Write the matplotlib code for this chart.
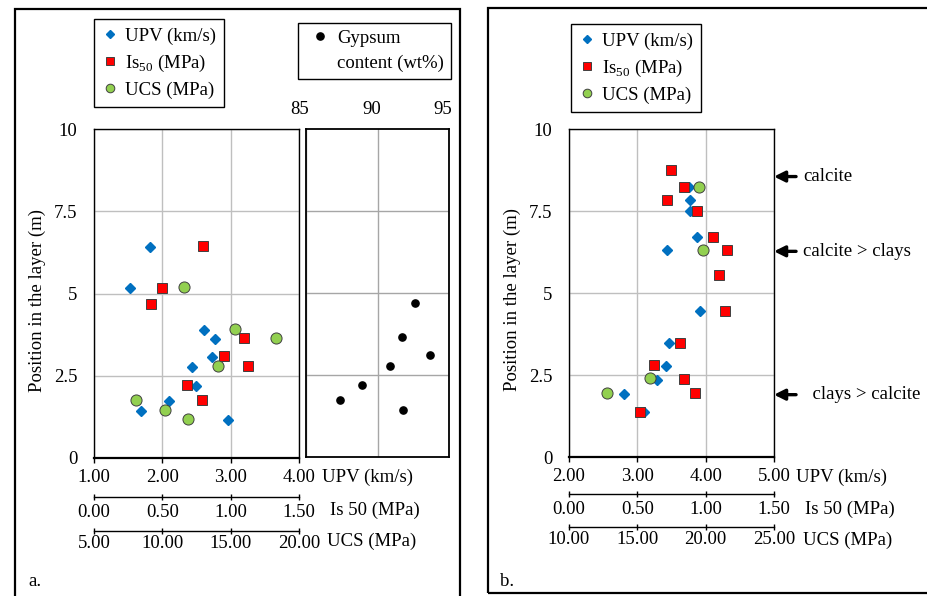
import numpy as np
import matplotlib
matplotlib.use('Agg')
import matplotlib.pyplot as plt
import matplotlib.transforms as mtransforms
from matplotlib.lines import Line2D
from matplotlib.patches import Rectangle

plt.rcParams['font.family'] = ['Liberation Serif', 'DejaVu Serif']
plt.rcParams['mathtext.fontset'] = 'custom'
plt.rcParams['mathtext.rm'] = 'Liberation Serif'
plt.rcParams['font.size'] = 13.5

#%% data
# panel a
a_upv_pos = [6.42, 5.17, 3.90, 3.63, 3.08, 2.77, 2.20, 1.72, 1.43, 1.15]
a_upv = [1.82, 1.52, 2.61, 2.77, 2.72, 2.44, 2.49, 2.10, 1.69, 2.96]
a_is_pos = [6.43, 5.18, 4.68, 3.66, 3.10, 2.79, 2.22, 1.77]
a_is50 = [0.80, 0.50, 0.42, 1.10, 0.95, 1.13, 0.68, 0.79]
a_ucs_pos = [5.20, 3.92, 3.66, 2.79, 1.77, 1.46, 1.20]
a_ucs = [11.6, 15.3, 18.3, 14.1, 8.1, 10.2, 11.9]
gyp_pos = [4.70, 3.65, 3.10, 2.77, 2.20, 1.75, 1.43]
gyp = [92.6, 91.7, 93.7, 90.9, 88.9, 87.4, 91.8]

# panel b
b_upv_pos = [8.24, 7.84, 7.50, 6.70, 6.30, 4.45, 3.48, 2.78, 2.35, 1.92, 1.36]
b_upv = [3.75, 3.77, 3.77, 3.87, 3.44, 3.92, 3.47, 3.42, 3.29, 2.81, 3.10]
b_is_pos = [8.74, 8.24, 7.84, 7.50, 6.70, 6.30, 5.56, 4.45, 3.48, 2.81, 2.38, 1.94, 1.36]
b_is50 = [0.745, 0.838, 0.716, 0.933, 1.057, 1.157, 1.094, 1.140, 0.809, 0.621, 0.840, 0.921, 0.519]
b_ucs_pos = [8.24, 6.30, 2.40, 1.96]
b_ucs = [19.5, 19.8, 15.9, 12.75]

y_ticks = [0, 2.5, 5, 7.5, 10]
y_ticklabels = ['0', '2.5', '5', '7.5', '10']
mineral_pos = [8.55, 6.27, 1.90]
mineral_txt = ['calcite', 'calcite > clays', '  clays > calcite']

BLUE = '#0070C0'
RED = '#FF0000'
GREEN = '#92D050'
GRID = '#BFBFBF'

W, H = 928, 596


def rect(x0, y0, x1, y1):
    # pixel box -> figure fraction
    return [x0 / W, 1 - y1 / H, (x1 - x0) / W, (y1 - y0) / H]


def fx(x):
    return x / W


def fy(y):
    return 1 - y / H


fig = plt.figure(figsize=(W / 100, H / 100), dpi=100)

# outer frames
fig.patches.append(Rectangle((fx(15), fy(610)), fx(460) - fx(15), fy(9) - fy(610),
                             transform=fig.transFigure, fill=False, lw=1.6, ec='black'))
fig.patches.append(Rectangle((fx(488), fy(593)), fx(940) - fx(488), fy(8) - fy(593),
                             transform=fig.transFigure, fill=False, lw=1.6, ec='black'))


def make_panel(box, upv_lim, is_lim, ucs_lim, off_is, off_ucs):
    ax = fig.add_axes(rect(*box))
    ax.set_xlim(*upv_lim)
    ax.set_ylim(0, 10)
    ax.set_xticks(np.arange(upv_lim[0], upv_lim[1] + 0.5, 1.0))
    ax.xaxis.set_major_formatter(matplotlib.ticker.FormatStrFormatter('%.2f'))
    ax.set_yticks(y_ticks)
    ax.set_yticklabels(y_ticklabels)
    ax.tick_params(axis='x', direction='out', length=3.6, width=1, pad=4.5)
    ax.tick_params(axis='y', length=0, pad=12)
    ax.grid(True, color=GRID, lw=1)
    ax.set_axisbelow(True)
    for s in ax.spines.values():
        s.set_linewidth(1.0)
    ax.spines['bottom'].set_linewidth(1.6)
    ax.set_ylabel('Position in the layer (m)')
    ax.yaxis.set_label_coords(-0.232, 0.48)

    twins = []
    for lim, off, step, pad in [(is_lim, off_is, 0.5, 2.5), (ucs_lim, off_ucs, 5.0, 0.5)]:
        t = ax.twiny()
        t.set_xlim(*lim)
        t.set_ylim(0, 10)
        t.set_xticks(np.arange(lim[0], lim[1] + step / 2, step))
        t.xaxis.set_major_formatter(matplotlib.ticker.FormatStrFormatter('%.2f'))
        t.xaxis.set_ticks_position('bottom')
        t.xaxis.set_label_position('bottom')
        for k in ['top', 'left', 'right']:
            t.spines[k].set_visible(False)
        t.spines['bottom'].set_position(('axes', off))
        t.spines['bottom'].set_linewidth(1.0)
        t.tick_params(axis='x', direction='inout', length=5, width=1, pad=pad)
        twins.append(t)
    return ax, twins[0], twins[1]


#%% panel a
ax_a, ax_a_is, ax_a_ucs = make_panel((94, 129, 299, 458), (1, 4), (0, 1.5), (5, 20),
                                     -0.1185, -0.222)
ax_a.plot(a_upv, a_upv_pos, 'D', color=BLUE, ms=4.8, mec=BLUE, ls='none', zorder=3)
ax_a_is.plot(a_is50, a_is_pos, 's', color=RED, ms=7.2, mec='#404040', mew=0.7, ls='none', zorder=3)
ax_a_ucs.plot(a_ucs, a_ucs_pos, 'o', color=GREEN, ms=8.0, mec='#404040', mew=0.7, ls='none', zorder=3)

ax_g = fig.add_axes(rect(306, 129, 449, 457))
ax_g.set_xlim(85, 95)
ax_g.set_ylim(0, 10)
ax_g.set_xticks([85, 90, 95])
ax_g.set_yticks([2.5, 5, 7.5])
ax_g.set_yticklabels([])
ax_g.xaxis.tick_top()
ax_g.tick_params(axis='both', length=0)
ax_g.tick_params(axis='x', pad=8)
shift = mtransforms.ScaledTranslation(-6 / 100, 0, fig.dpi_scale_trans)
for lab in ax_g.get_xticklabels():
    lab.set_transform(lab.get_transform() + shift)
ax_g.grid(True, color='#A6A6A6', lw=1)
ax_g.set_axisbelow(True)
for s in ax_g.spines.values():
    s.set_linewidth(1.3)
ax_g.plot(gyp, gyp_pos, 'o', color='black', ms=5.2, ls='none')

fig.text(fx(322), fy(477), 'UPV (km/s)', va='center', ha='left')
fig.text(fx(330), fy(510), 'Is 50 (MPa)', va='center', ha='left')
fig.text(fx(327), fy(541), 'UCS (MPa)', va='center', ha='left')
fig.text(fx(28), fy(582), 'a.', va='center', ha='left')

#%% panel b
ax_b, ax_b_is, ax_b_ucs = make_panel((569, 129, 774, 457), (2, 5), (0, 1.5), (10, 25),
                                     -0.113, -0.213)
ax_b.plot(b_upv, b_upv_pos, 'D', color=BLUE, ms=4.8, mec=BLUE, ls='none', zorder=3)
ax_b_is.plot(b_is50, b_is_pos, 's', color=RED, ms=7.2, mec='#404040', mew=0.7, ls='none', zorder=3)
ax_b_ucs.plot(b_ucs, b_ucs_pos, 'o', color=GREEN, ms=8.0, mec='#404040', mew=0.7, ls='none', zorder=3)

for p, t in zip(mineral_pos, mineral_txt):
    ax_b_ucs.annotate(t, xy=(1.0, p), xycoords=('axes fraction', 'data'),
                      xytext=(29, 0), textcoords='offset pixels', ha='left', va='center',
                      arrowprops=dict(arrowstyle='-|>', color='black', lw=2.4,
                                      mutation_scale=16, shrinkA=3, shrinkB=0),
                      annotation_clip=False)

fig.text(fx(796), fy(477), 'UPV (km/s)', va='center', ha='left')
fig.text(fx(805), fy(509), 'Is 50 (MPa)', va='center', ha='left')
fig.text(fx(803), fy(540), 'UCS (MPa)', va='center', ha='left')
fig.text(fx(500), fy(582), 'b.', va='center', ha='left')

#%% legends
handles = [Line2D([], [], marker='D', color=BLUE, ls='none', ms=4.4),
           Line2D([], [], marker='s', color=RED, mec='#404040', mew=0.7, ls='none', ms=6.2),
           Line2D([], [], marker='o', color=GREEN, mec='#404040', mew=0.7, ls='none', ms=6.2)]
labels = ['UPV (km/s)', r'Is$_{\mathregular{50}}$ (MPa)', 'UCS (MPa)']
leg_kw = dict(loc='upper left', borderaxespad=0, fancybox=False, edgecolor='black',
              framealpha=1, handlelength=0.8, handletextpad=0.4, labelspacing=0.42,
              borderpad=0.45)
la = fig.legend(handles, labels, bbox_to_anchor=(fx(94), fy(19)), **leg_kw)
la.get_frame().set_linewidth(1.0)
lb = fig.legend(handles, labels, bbox_to_anchor=(fx(571), fy(24)), **leg_kw)
lb.get_frame().set_linewidth(1.0)

gh = [Line2D([], [], marker='o', color='black', ls='none', ms=5.2),
      Line2D([], [], ls='none')]
lg = fig.legend(gh, ['Gypsum', 'content (wt%)'], bbox_to_anchor=(fx(298), fy(23)),
                loc='upper left', borderaxespad=0, fancybox=False, edgecolor='black',
                framealpha=1, handlelength=1.6, handletextpad=0.15, labelspacing=0.45,
                borderpad=0.35)
lg.get_frame().set_linewidth(1.0)

fig.savefig('out.png', dpi=100)
